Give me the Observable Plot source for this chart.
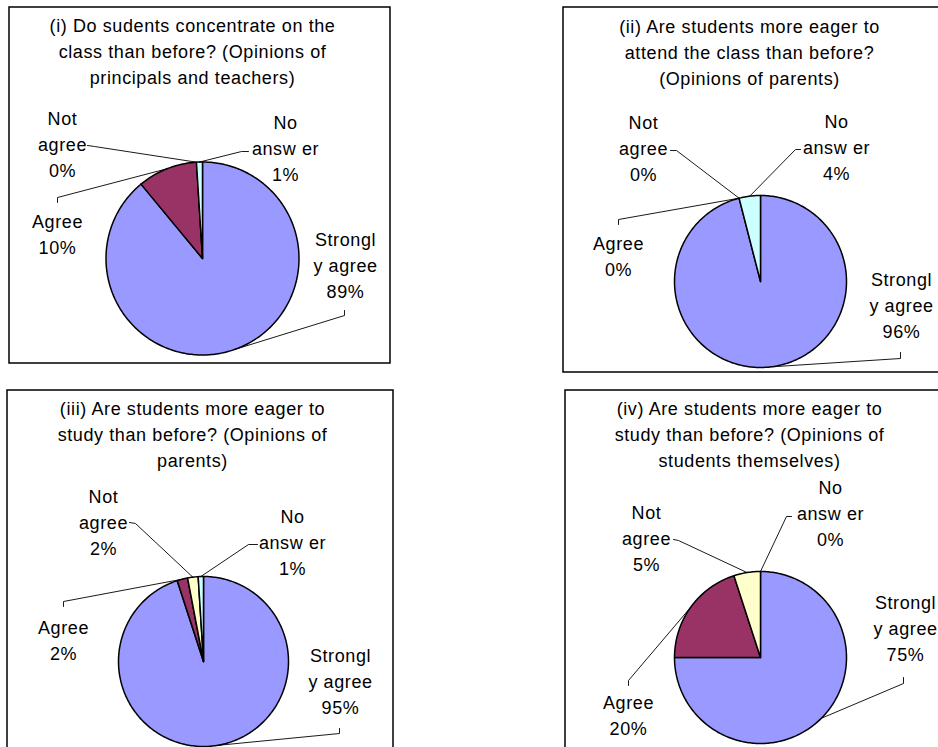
<!DOCTYPE html>
<html>
<head>
<meta charset="utf-8">
<script src="https://cdn.jsdelivr.net/npm/d3@7"></script>
<script src="https://cdn.jsdelivr.net/npm/@observablehq/plot@0.6"></script>
<style>
html, body { margin: 0; padding: 0; background: #fff; overflow: hidden; width: 938px; height: 747px; }
#chart { position: absolute; left: 0; top: 0; }
</style>
</head>
<body>
<div id="chart"></div>
<script>
// ---------- data ----------
const categories = ["Strongly agree", "Agree", "Not agree", "No answer"];
const categoryLabelLines = [["Strongl", "y agree"], ["Agree"], ["Not", "agree"], ["No", "answ er"]];
const categoryColors = ["#9999FF", "#993366", "#FFFFCC", "#CCFFFF"];

const titles = [
  ["(i) Do sudents concentrate on the", "class than before? (Opinions of", "principals and teachers)"],
  ["(ii) Are students more eager to", "attend the class than before?", "(Opinions of parents)"],
  ["(iii) Are students more eager to", "study than before? (Opinions of", "parents)"],
  ["(iv) Are students more eager to", "study than before? (Opinions of", "students themselves)"]
];

const valuesI   = [89, 10, 0, 1];
const valuesII  = [96, 0, 0, 4];
const valuesIII = [95, 2, 2, 1];
const valuesIV  = [75, 20, 5, 0];
const panelValues = [valuesI, valuesII, valuesIII, valuesIV];

// ---------- layout (pixels) ----------
const W = 938, H = 747, LH = 26;
const layout = [
  {box: [9, 7, 390, 363], cx: 202, cy: 258, r: 96.5, title: [192, 31],
   labels: [[345, 245], [57, 227], [62, 124], [285, 128]],
   ticks: [[[344, 310], [344, 315]], [[57, 202], [57, 197]], [[87, 145], [94, 146]], [[248, 151], [241, 151]]]},
  {box: [563, 7, 960, 372], cx: 760, cy: 281, r: 86, title: [749, 32],
   labels: [[901, 285], [618, 249], [643, 128], [836, 127]],
   ticks: [[[900, 352], [900, 358]], [[618, 224], [618, 219]], [[670, 150], [676, 150]], [[800, 149], [795, 149]]]},
  {box: [7, 390, 393, 770], cx: 203, cy: 661, r: 85, title: [192, 414],
   labels: [[340, 661], [63, 633], [103, 502], [292, 522]],
   ticks: [[[339, 728], [339, 733]], [[63, 606], [63, 601]], [[129, 522], [135, 523]], [[257, 544], [248, 544]]]},
  {box: [565, 390, 960, 770], cx: 760, cy: 657, r: 86, title: [749, 414],
   labels: [[905, 608], [628, 708], [646, 518], [830, 493]],
   ticks: [[[903, 677], [903, 683]], [[628, 685], [628, 680]], [[673, 539], [678, 540]], [[791, 516], [786, 516]]]}
];

// ---------- derived rows ----------
const slices = [], leaders = [], labels = [], titleRows = [], boxes = [];
panelValues.forEach((vals, p) => {
  const L = layout[p];
  const total = d3.sum(vals);
  const pt = (a) => [L.cx + L.r * Math.sin(a), L.cy - L.r * Math.cos(a)];
  let acc = 0;
  vals.forEach((v, i) => {
    const a0 = acc / total * 2 * Math.PI;
    acc += v;
    const a1 = acc / total * 2 * Math.PI;
    const id = `p${p}-s${i}`;
    if (v > 0) {
      const n = Math.max(2, Math.ceil((a1 - a0) / (Math.PI / 180)));
      slices.push({id, cat: categories[i], x: L.cx, y: L.cy});
      for (let k = 0; k <= n; k++) {
        const [x, y] = pt(a0 + (a1 - a0) * k / n);
        slices.push({id, cat: categories[i], x, y});
      }
      slices.push({id, cat: categories[i], x: L.cx, y: L.cy});
    }
    // leader line: label bend -> arc midpoint
    const [mx, my] = pt((a0 + a1) / 2);
    const [t0, t1] = L.ticks[i];
    leaders.push({id, x: t0[0], y: t0[1]}, {id, x: t1[0], y: t1[1]}, {id, x: mx, y: my});
    // label lines
    const lines = [...categoryLabelLines[i], `${v}%`];
    lines.forEach((s, k) => labels.push({text: s, x: L.labels[i][0], y: L.labels[i][1] + k * LH}));
  });
  titles[p].forEach((s, k) => titleRows.push({text: s, x: L.title[0], y: L.title[1] + k * LH}));
  boxes.push({x1: L.box[0], y1: L.box[1], x2: L.box[2], y2: L.box[3]});
});

const chart = Plot.plot({
  width: W, height: H,
  margin: 0,
  x: {domain: [0, W], range: [0, W], axis: null},
  y: {domain: [0, H], range: [0, H], axis: null},
  color: {domain: categories, range: categoryColors},
  style: {fontFamily: "'Liberation Sans', Arial, sans-serif", fontSize: "18px", letterSpacing: "0.6px", color: "#000", background: "#fff"},
  marks: [
    Plot.rect(boxes, {x1: "x1", y1: "y1", x2: "x2", y2: "y2", fill: "none", stroke: "#000", strokeWidth: 1.5}),
    Plot.line(slices, {x: "x", y: "y", z: "id", fill: "cat", stroke: "#000", strokeWidth: 1.5, strokeLinejoin: "round", curve: "linear"}),
    Plot.line(leaders, {x: "x", y: "y", z: "id", stroke: "#000", strokeWidth: 0.9}),
    Plot.text(titleRows, {x: "x", y: "y", text: "text", lineAnchor: "bottom", textAnchor: "middle", fontSize: 18, fill: "#000"}),
    Plot.text(labels, {x: "x", y: "y", text: "text", lineAnchor: "bottom", textAnchor: "middle", fontSize: 18, fill: "#000"})
  ]
});
document.getElementById("chart").appendChild(chart);
</script>
</body>
</html>
